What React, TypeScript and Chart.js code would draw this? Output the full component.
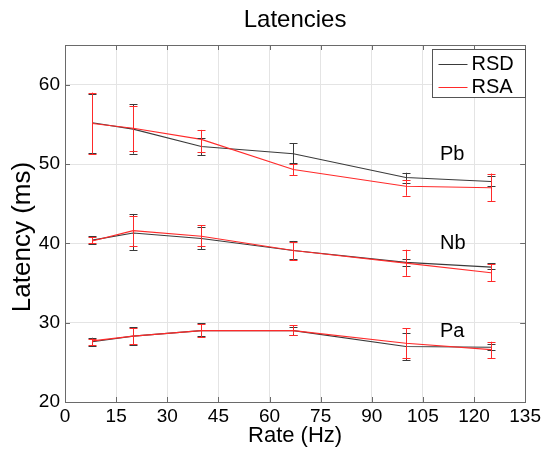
import React, { useEffect, useRef } from "react";
import { Chart, registerables } from "chart.js";

Chart.register(...registerables);

const rates = [8, 20, 40, 67, 100, 125];

const pbRSD = [55.2, 54.4, 52.2, 51.3, 48.3, 47.8];
const pbRSDHi = [58.8, 57.5, 53.3, 52.6, 48.9, 48.5];
const pbRSDLo = [51.4, 51.3, 51.1, 50.1, 47.6, 47.2];
const pbRSA = [55.1, 54.5, 53.1, 49.3, 47.2, 47.0];
const pbRSAHi = [59.0, 57.3, 54.3, 50.0, 48.0, 48.8];
const pbRSALo = [51.3, 51.7, 51.5, 48.6, 46.0, 45.3];

const nbRSD = [40.4, 41.3, 40.6, 39.1, 37.6, 37.0];
const nbRSDHi = [40.9, 43.7, 42.0, 40.3, 38.0, 37.5];
const nbRSDLo = [39.9, 39.1, 39.3, 38.0, 37.2, 36.8];
const nbRSA = [40.3, 41.6, 40.9, 39.1, 37.5, 36.3];
const nbRSAHi = [40.8, 43.4, 42.3, 40.2, 39.2, 37.4];
const nbRSALo = [40.0, 39.7, 39.7, 37.9, 35.9, 35.2];

const paRSD = [27.6, 28.3, 29.0, 29.0, 27.0, 26.9];
const paRSDHi = [28.1, 29.4, 29.9, 29.5, 28.7, 27.3];
const paRSDLo = [27.1, 27.2, 28.3, 28.4, 25.3, 26.6];
const paRSA = [27.7, 28.3, 29.0, 29.0, 27.4, 26.6];
const paRSAHi = [28.0, 29.3, 29.8, 29.7, 29.3, 27.6];
const paRSALo = [27.2, 27.3, 28.2, 28.5, 25.5, 25.5];

const groupLabels = ["Pb", "Nb", "Pa"];
const groupLabelX = [110, 110, 110];
const groupLabelY = [51.2, 40.0, 28.9];

const seriesNames = ["RSD", "RSA"];
const titleText = "Latencies";
const yTitleText = "Latency (ms)";
const xTitleText = "Rate (Hz)";

const RSD_COLOR = "#3a3a3a";
const RSA_COLOR = "#ff2a2a";
const FONT = "'Liberation Sans', Arial, sans-serif";

function pts(ys: number[]) {
  return ys.map((y, i) => ({ x: rates[i], y }));
}

function ds(label: string, ys: number[], hi: number[], lo: number[], color: string) {
  return {
    label,
    data: pts(ys),
    borderColor: color,
    backgroundColor: color,
    borderWidth: 1.1,
    pointRadius: 0,
    tension: 0,
    errHi: hi,
    errLo: lo,
  } as any;
}

const boxPlugin = {
  id: "boxTicks",
  beforeDatasetsDraw(chart: any) {
    const { ctx, chartArea: a, scales } = chart;
    ctx.save();
    ctx.strokeStyle = "#6a6a6a";
    ctx.lineWidth = 1;
    ctx.beginPath();
    const L = 5;
    scales.x.ticks.forEach((t: any) => {
      const px = Math.round(scales.x.getPixelForValue(t.value)) + 0.5;
      ctx.moveTo(px, a.bottom);
      ctx.lineTo(px, a.bottom - L);
      ctx.moveTo(px, a.top);
      ctx.lineTo(px, a.top + L);
    });
    scales.y.ticks.forEach((t: any) => {
      const py = Math.round(scales.y.getPixelForValue(t.value)) + 0.5;
      ctx.moveTo(a.left, py);
      ctx.lineTo(a.left + L, py);
      ctx.moveTo(a.right, py);
      ctx.lineTo(a.right - L, py);
    });
    ctx.stroke();
    ctx.beginPath();
    ctx.rect(Math.round(a.left) + 0.5, Math.round(a.top) + 0.5, Math.round(a.right - a.left), Math.round(a.bottom - a.top));
    ctx.stroke();
    ctx.restore();
  },
  afterDatasetsDraw(chart: any) {
    const { ctx, scales, chartArea: a } = chart;
    const x = scales.x;
    const y = scales.y;
    ctx.save();
    const order = chart.data.datasets.map((_: any, i: number) => i).reverse();
    order.forEach((i: number) => {
      const d = chart.data.datasets[i];
      ctx.strokeStyle = d.borderColor;
      ctx.lineWidth = 1;
      ctx.beginPath();
      d.data.forEach((p: any, k: number) => {
        const px = Math.round(x.getPixelForValue(p.x)) + 0.5;
        const yh = y.getPixelForValue(d.errHi[k]);
        const yl = y.getPixelForValue(d.errLo[k]);
        ctx.moveTo(px, yh);
        ctx.lineTo(px, yl);
        ctx.moveTo(px - 4, Math.round(yh) + 0.5);
        ctx.lineTo(px + 4, Math.round(yh) + 0.5);
        ctx.moveTo(px - 4, Math.round(yl) + 0.5);
        ctx.lineTo(px + 4, Math.round(yl) + 0.5);
      });
      ctx.stroke();
    });
    // group labels
    ctx.fillStyle = "#000";
    ctx.font = `20px ${FONT}`;
    ctx.textAlign = "left";
    ctx.textBaseline = "middle";
    groupLabels.forEach((t, i) => {
      ctx.fillText(t, x.getPixelForValue(groupLabelX[i]), y.getPixelForValue(groupLabelY[i]));
    });
    // legend
    const bx = 432.5, by = 49.5, bw = 93, bh = 48;
    ctx.fillStyle = "#fff";
    ctx.fillRect(bx, by, bw, bh);
    ctx.strokeStyle = "#555";
    ctx.lineWidth = 1;
    ctx.strokeRect(bx, by, bw, bh);
    const colors = [RSD_COLOR, RSA_COLOR];
    seriesNames.forEach((n, i) => {
      const ly = by + 14 + i * 23;
      ctx.strokeStyle = colors[i];
      ctx.beginPath();
      ctx.moveTo(bx + 6, Math.round(ly) + 0.5);
      ctx.lineTo(bx + 35, Math.round(ly) + 0.5);
      ctx.stroke();
      ctx.fillStyle = "#000";
      ctx.font = `20px ${FONT}`;
      ctx.textBaseline = "middle";
      ctx.fillText(n, bx + 39, ly + 1);
    });
    // title
    ctx.font = `24px ${FONT}`;
    ctx.textAlign = "center";
    ctx.textBaseline = "middle";
    ctx.fillStyle = "#000";
    ctx.fillText(titleText, (a.left + a.right) / 2, 20);
    // y title
    ctx.save();
    ctx.translate(23, 237);
    ctx.rotate(-Math.PI / 2);
    ctx.font = `26px ${FONT}`;
    ctx.fillText(yTitleText, 0, 0);
    ctx.restore();
    ctx.restore();
  },
};

export default function App() {
  const ref = useRef<HTMLCanvasElement>(null);
  useEffect(() => {
    if (!ref.current) return;
    const chart = new Chart(ref.current, {
      type: "line",
      data: {
        datasets: [
          ds("RSA Pb", pbRSA, pbRSAHi, pbRSALo, RSA_COLOR),
          ds("RSA Nb", nbRSA, nbRSAHi, nbRSALo, RSA_COLOR),
          ds("RSA Pa", paRSA, paRSAHi, paRSALo, RSA_COLOR),
          ds("RSD Pb", pbRSD, pbRSDHi, pbRSDLo, RSD_COLOR),
          ds("RSD Nb", nbRSD, nbRSDHi, nbRSDLo, RSD_COLOR),
          ds("RSD Pa", paRSD, paRSDHi, paRSDLo, RSD_COLOR),
        ],
      },
      options: {
        animation: false,
        responsive: false,
        layout: { padding: { left: 0, right: 18, top: 45, bottom: 0 } },
        plugins: {
          legend: { display: false },
          tooltip: { enabled: false },
          title: { display: false },
        },
        scales: {
          x: {
            type: "linear",
            min: 0,
            max: 135,
            ticks: { stepSize: 15, color: "#000", font: { family: FONT, size: 19 }, padding: 3, maxRotation: 0 },
            grid: { color: "#e4e4e4", drawTicks: false },
            border: { color: "#6a6a6a" },
            title: { display: true, text: xTitleText, color: "#000", font: { family: FONT, size: 22 }, padding: { top: 0, bottom: 3 } },
            afterFit: (s: any) => { s.height = 50; },
          },
          y: {
            type: "linear",
            min: 20,
            max: 65,
            ticks: {
              stepSize: 10,
              color: "#000",
              font: { family: FONT, size: 19 },
              padding: 5,
              callback: (v: any) => (v === 65 ? "" : String(v)),
            },
            grid: { color: "#e4e4e4", drawTicks: false },
            border: { color: "#6a6a6a" },
            title: { display: false },
            afterFit: (s: any) => { s.width = 65; },
          },
        },
      },
      plugins: [boxPlugin],
    } as any);
    return () => chart.destroy();
  }, []);
  return (
    <div style={{ position: "absolute", left: 0, top: 0, width: 544, height: 452 }}>
      <canvas ref={ref} width={544} height={452} style={{ display: "block" }} />
    </div>
  );
}
